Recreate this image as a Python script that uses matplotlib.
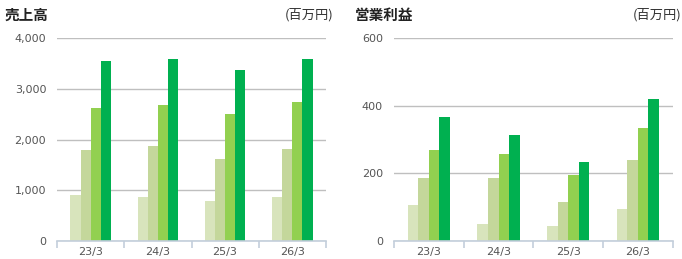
import matplotlib
matplotlib.use("Agg")
import matplotlib.pyplot as plt
import numpy as np
from matplotlib.ticker import FuncFormatter, FixedLocator

plt.rcParams['font.family'] = ['Noto Sans CJK JP', 'DejaVu Sans']

categories = ["23/3", "24/3", "25/3", "26/3"]
sales_s1 = [910, 870, 790, 870]
sales_s2 = [1800, 1870, 1620, 1815]
sales_s3 = [2620, 2680, 2505, 2740]
sales_s4 = [3550, 3590, 3375, 3590]
op_s1 = [107, 50, 44, 95]
op_s2 = [186, 186, 115, 240]
op_s3 = [269, 257, 196, 335]
op_s4 = [367, 314, 234, 420]
colors = ["#d8e4bc", "#c4d79b", "#92d050", "#00b050"]

fig = plt.figure(figsize=(6.82, 2.59), dpi=100)

def draw(ax, series, ymax, step, title, title_x, unit_x):
    x = np.arange(len(categories))
    w = 0.152
    for i, (vals, c) in enumerate(zip(series, colors)):
        ax.bar(x + (i - 1.5) * w, vals, width=w, color=c, zorder=3, linewidth=0)
    ax.set_xlim(-0.5, len(categories) - 0.5)
    ax.set_ylim(0, ymax)
    ax.set_yticks(np.arange(0, ymax + 1, step))
    ax.yaxis.set_major_formatter(FuncFormatter(lambda v, p: f"{int(v):,}"))
    ax.grid(axis='y', color='#bfbfbf', linewidth=1, zorder=0)
    ax.set_axisbelow(True)
    for s in ['top', 'right', 'left']:
        ax.spines[s].set_visible(False)
    ax.spines['bottom'].set_color('#c3cedb')
    ax.spines['bottom'].set_linewidth(1.2)
    ax.spines['bottom'].set_zorder(4)
    ax.tick_params(axis='y', length=0, pad=8, labelsize=8, labelcolor='#555555')
    ax.set_xticks(x)
    ax.set_xticklabels(categories)
    ax.tick_params(axis='x', which='major', length=0, pad=4, labelsize=8, labelcolor='#555555')
    for lab in ax.get_xticklabels() + ax.get_yticklabels():
        lab.set_family('DejaVu Sans')
    ax.xaxis.set_minor_locator(FixedLocator(np.arange(-0.5, len(categories), 1.0)))
    ax.tick_params(axis='x', which='minor', length=5, color='#c3cedb', width=1.2, direction='out')
    fig.text(title_x, 1 - 15 / 259, title, fontsize=10.5, fontweight='bold', color='#222222',
             ha='left', va='center')
    fig.text(unit_x, 1 - 15 / 259, "(百万円)", fontsize=9.5, color='#333333',
             ha='right', va='center')

ax1 = fig.add_axes([57.3 / 682, 18 / 259, (325.7 - 57.3) / 682, (241 - 38.3) / 259])
draw(ax1, [sales_s1, sales_s2, sales_s3, sales_s4], 4000, 1000, "売上高", 5 / 682, 334 / 682)

ax2 = fig.add_axes([394 / 682, 18 / 259, (672.7 - 394) / 682, (241 - 38.3) / 259])
draw(ax2, [op_s1, op_s2, op_s3, op_s4], 600, 200, "営業利益", 355 / 682, 681 / 682)

fig.savefig("out.png", dpi=100)
